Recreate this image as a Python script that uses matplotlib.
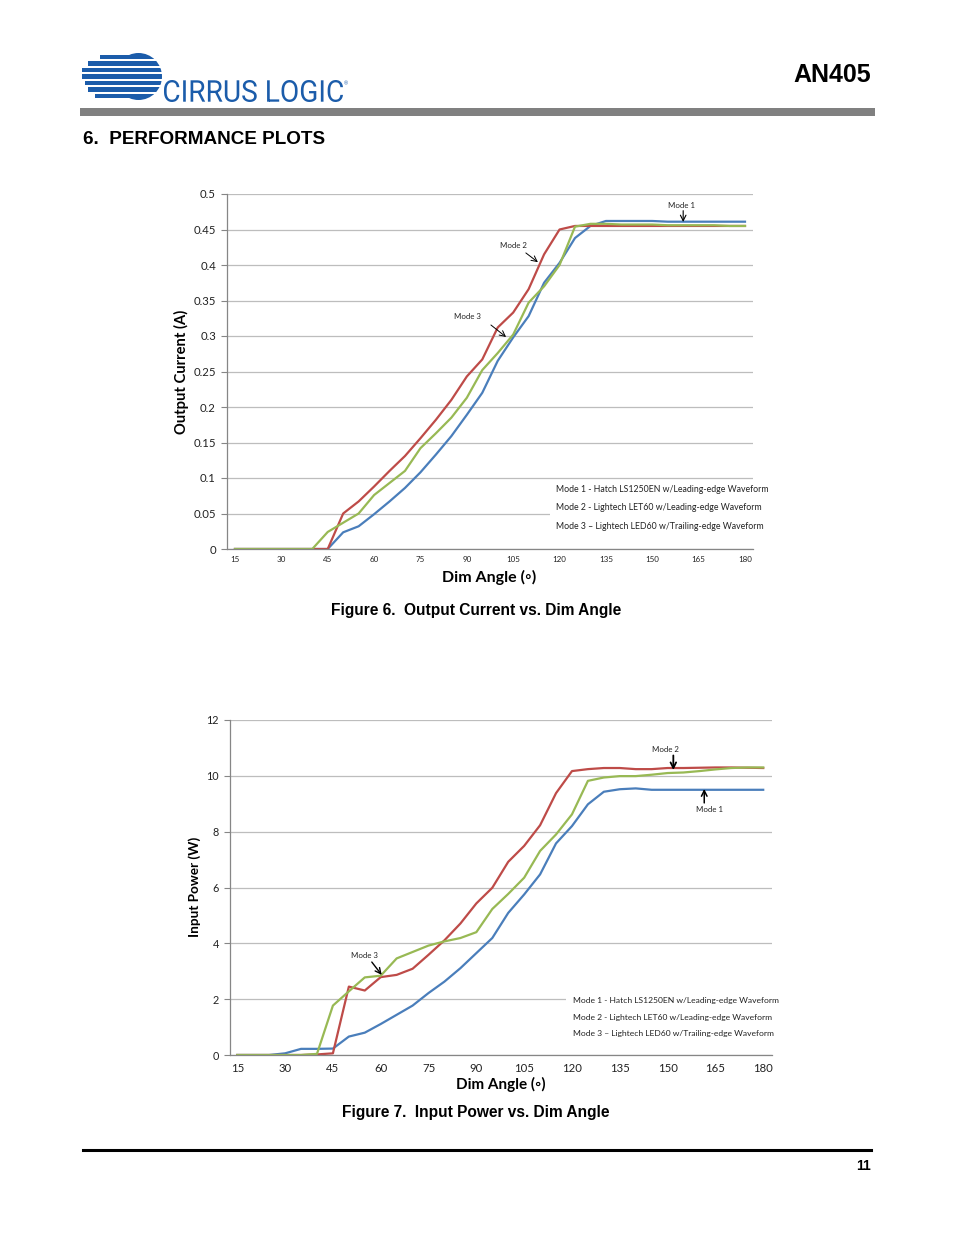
import numpy as np
import matplotlib
matplotlib.use('Agg')
import matplotlib.pyplot as plt
from matplotlib.patches import Rectangle, PathPatch, Ellipse
from matplotlib.textpath import TextPath
from matplotlib.font_manager import FontProperties
from matplotlib.transforms import Affine2D
from matplotlib.lines import Line2D

# ---------------- data ----------------
angles = list(range(15, 181, 5))

current_mode1 = [0, 0, 0, 0, 0, 0, 0,
                 0.0235, 0.032, 0.049, 0.067, 0.086, 0.108, 0.133, 0.159, 0.189, 0.220,
                 0.265, 0.298, 0.328, 0.375, 0.403, 0.438, 0.455, 0.462, 0.462, 0.462,
                 0.462, 0.461, 0.461, 0.461, 0.461, 0.461, 0.461]
current_mode2 = [0, 0, 0, 0, 0, 0, 0,
                 0.050, 0.067, 0.088, 0.110, 0.131, 0.156, 0.182, 0.210, 0.243, 0.267,
                 0.312, 0.333, 0.366, 0.415, 0.450, 0.455, 0.455, 0.455, 0.455, 0.455,
                 0.455, 0.455, 0.455, 0.455, 0.455, 0.455, 0.455]
current_mode3 = [0, 0, 0, 0, 0, 0,
                 0.024, 0.037, 0.050, 0.076, 0.093, 0.110, 0.142, 0.163, 0.185, 0.213,
                 0.252, 0.276, 0.302, 0.347, 0.370, 0.400, 0.454, 0.458, 0.458, 0.457,
                 0.457, 0.457, 0.456, 0.456, 0.456, 0.456, 0.455, 0.455]

power_mode1 = [0, 0, 0, 0.06, 0.22, 0.22, 0.23,
               0.66, 0.80, 1.11, 1.44, 1.77, 2.22, 2.63, 3.11, 3.65, 4.19,
               5.09, 5.75, 6.47, 7.58, 8.20, 8.98, 9.43, 9.52, 9.55, 9.50,
               9.50, 9.50, 9.50, 9.50, 9.50, 9.50, 9.50]
power_mode2 = [0, 0, 0, 0, 0, 0.02, 0.06,
               2.45, 2.31, 2.79, 2.87, 3.09, 3.59, 4.11, 4.71, 5.43, 5.99,
               6.92, 7.49, 8.23, 9.38, 10.17, 10.24, 10.28, 10.28, 10.24, 10.24,
               10.28, 10.28, 10.29, 10.30, 10.30, 10.29, 10.28]
power_mode3 = [0, 0, 0, 0, 0, 0.04, 1.77,
               2.28, 2.78, 2.84, 3.46, 3.69, 3.92, 4.07, 4.19, 4.40, 5.23,
               5.77, 6.35, 7.31, 7.90, 8.62, 9.82, 9.94, 9.99, 9.99, 10.04,
               10.10, 10.12, 10.17, 10.23, 10.28, 10.30, 10.30]

x_ticks = [15, 30, 45, 60, 75, 90, 105, 120, 135, 150, 165, 180]
x_tick_labels = [str(v) for v in x_ticks]
current_yticks = [0, 0.05, 0.1, 0.15, 0.2, 0.25, 0.3, 0.35, 0.4, 0.45, 0.5]
current_ytick_labels = ['0', '0.05', '0.1', '0.15', '0.2', '0.25', '0.3', '0.35', '0.4', '0.45', '0.5']
power_yticks = [0, 2, 4, 6, 8, 10, 12]
power_ytick_labels = ['0', '2', '4', '6', '8', '10', '12']

legend_lines = ['Mode 1 - Hatch LS1250EN w/Leading-edge Waveform',
                'Mode 2 - Lightech LET60 w/Leading-edge Waveform',
                'Mode 3 \u2013 Lightech LED60 w/Trailing-edge Waveform']

# ---------------- layout helpers ----------------
W, H = 954, 1235
fig = plt.figure(figsize=(W / 100, H / 100), dpi=100)
fig.patch.set_facecolor('white')


def fx(px):
    return px / W


def fy(py):
    return 1 - py / H


def axrect(l, t, r, b):
    return [fx(l), fy(b), (r - l) / W, (b - t) / H]


COL1, COL2, COL3 = '#4a7ebb', '#be4b48', '#98b954'
GRID = '#bdbdbd'
SPINE = '#868686'
BODY = ['Lato', 'DejaVu Sans']
HEAD = ['Liberation Sans', 'DejaVu Sans']


def style_axes(ax, xlim, ylim, yticks, ylabels, xfs, yfs, xpad):
    ax.set_xlim(xlim)
    ax.set_ylim(ylim)
    ax.set_xticks(x_ticks)
    ax.set_xticklabels(x_tick_labels, fontsize=xfs, family=BODY, color='#222222')
    ax.set_yticks(yticks)
    ax.set_yticklabels(ylabels, fontsize=yfs, family=BODY, color='#222222')
    ax.tick_params(axis='x', length=0, pad=xpad)
    ax.tick_params(axis='y', length=4, width=0.8, color=SPINE, pad=4)
    ax.grid(axis='y', color=GRID, lw=0.9)
    ax.set_axisbelow(True)
    for s in ['top', 'right']:
        ax.spines[s].set_visible(False)
    for s in ['left', 'bottom']:
        ax.spines[s].set_color(SPINE)
        ax.spines[s].set_linewidth(0.9)


# ---------------- header ----------------
LOGO = '#1b5caa'
cx, cy, r = 138.5, 76.5, 23.5
fig.add_artist(Ellipse((fx(cx), fy(cy)), 2 * r / W, 2 * r / H, transform=fig.transFigure,
                       facecolor=LOGO, edgecolor='none'))
rows_y = [57, 63.5, 70, 76.5, 83, 89.5, 96]
rows_left = [100, 88, 82, 82, 85, 88, 95]
band_h = 4.4
for i in range(len(rows_y) - 1):
    gy = (rows_y[i] + rows_y[i + 1]) / 2
    fig.add_artist(Rectangle((fx(cx - r - 2), fy(gy + 1.05)), (2 * r + 4) / W, 2.1 / H,
                             transform=fig.transFigure, facecolor='white', edgecolor='none'))
for yc, xl in zip(rows_y, rows_left):
    fig.add_artist(Rectangle((fx(xl), fy(yc + band_h / 2)), (cx - xl) / W, band_h / H,
                             transform=fig.transFigure, facecolor=LOGO, edgecolor='none'))

tp = TextPath((0, 0), 'CIRRUS LOGIC', size=20,
              prop=FontProperties(family=['Roboto', 'DejaVu Sans']))
ext = tp.get_extents()
sx = 179 / ext.width
sy = 22 / ext.height
tr = (Affine2D().translate(-ext.x0, -ext.y0).scale(sx, sy).translate(164, H - 102)
      .scale(1 / W, 1 / H) + fig.transFigure)
fig.add_artist(PathPatch(tp, transform=tr, facecolor=LOGO, edgecolor='none'))
fig.text(fx(346), fy(84), '\u00ae', fontsize=4, color=LOGO, ha='center', va='center', family=HEAD)

fig.text(fx(871), fy(75), 'AN405', ha='right', va='center', fontsize=18,
         weight='bold', family=HEAD)
fig.add_artist(Rectangle((fx(80), fy(116)), (875 - 80) / W, 8 / H,
                         transform=fig.transFigure, facecolor='#808080', edgecolor='none'))
fig.text(fx(83), fy(140), '6.  PERFORMANCE PLOTS', ha='left', va='center', fontsize=13.6,
         weight='bold', family=HEAD)

# ---------------- chart 1: output current ----------------
ax1 = fig.add_axes(axrect(227, 194, 753, 549))
style_axes(ax1, (15 - 8 / 3.0909, 180 + 8 / 3.0909), (0, 0.5),
           current_yticks, current_ytick_labels, 5.8, 8.2, 4.8)
ax1.plot(angles, current_mode1, color=COL1, lw=1.6, zorder=2)
ax1.plot(angles, current_mode2, color=COL2, lw=1.6, zorder=2)
ax1.plot(angles, current_mode3, color=COL3, lw=1.6, zorder=2)
ax1.add_patch(Rectangle((0.614, 0.03), 0.45, 0.163, transform=ax1.transAxes,
                        facecolor='white', edgecolor='none', zorder=1, clip_on=False))
for t, yy in zip(legend_lines, [0.169, 0.1155, 0.062]):
    ax1.text(0.6255, yy, t, transform=ax1.transAxes, fontsize=6.35, family=BODY,
             ha='left', va='center', color='#222222', zorder=3)

ann_small = dict(fontsize=5.7, family=BODY, ha='center', va='center', color='#222222')
ax1.annotate('', xy=(160, 0.4606), xytext=(160, 0.4765),
             arrowprops=dict(arrowstyle='->', lw=0.8, color='black', shrinkA=0, shrinkB=0))
ax1.text(159.6, 0.4845, 'Mode 1', **ann_small)
ax1.annotate('', xy=(113, 0.404), xytext=(109.1, 0.417),
             arrowprops=dict(arrowstyle='->', lw=0.7, color='black', shrinkA=0, shrinkB=0))
ax1.text(105, 0.428, 'Mode 2', **ann_small)
ax1.annotate('', xy=(102.7, 0.2986), xytext=(97.8, 0.3155),
             arrowprops=dict(arrowstyle='->', lw=0.7, color='black', shrinkA=0, shrinkB=0))
ax1.text(90.1, 0.3268, 'Mode 3', **ann_small)

fig.text(fx(181), fy(372), 'Output Current (A)', rotation=90, ha='center', va='center',
         fontsize=10.6, weight='bold', family=BODY)
fig.text(fx(489.5), fy(577), 'Dim Angle (\u25e6)', ha='center', va='center',
         fontsize=11.5, weight='bold', family=BODY)
fig.text(fx(476), fy(610), 'Figure 6.  Output Current vs. Dim Angle', ha='center', va='center',
         fontsize=11.2, weight='bold', family=HEAD)

# ---------------- chart 2: input power ----------------
ax2 = fig.add_axes(axrect(230, 720, 772, 1055))
style_axes(ax2, (15 - 7.3 / 3.1915, 180 + 8.8 / 3.1915), (0, 12),
           power_yticks, power_ytick_labels, 8.2, 7.8, 5.5)
ax2.plot(angles, power_mode1, color=COL1, lw=1.6, zorder=2)
ax2.plot(angles, power_mode2, color=COL2, lw=1.6, zorder=2)
ax2.plot(angles, power_mode3, color=COL3, lw=1.6, zorder=2)
ax2.add_patch(Rectangle((0.62, 0.034), 0.43, 0.16, transform=ax2.transAxes,
                        facecolor='white', edgecolor='none', zorder=1, clip_on=False))
for t, yy in zip(legend_lines, [0.164, 0.113, 0.063]):
    ax2.text(0.633, yy, t, transform=ax2.transAxes, fontsize=6.1, family=BODY,
             ha='left', va='center', color='#222222', zorder=3)

ax2.annotate('', xy=(151.8, 10.21), xytext=(151.8, 10.73),
             arrowprops=dict(arrowstyle='->', lw=1.3, color='black', shrinkA=0, shrinkB=0))
ax2.text(149.3, 10.96, 'Mode 2', **ann_small)
ax2.annotate('', xy=(161.5, 9.53), xytext=(161.5, 9.03),
             arrowprops=dict(arrowstyle='->', lw=1.1, color='black', shrinkA=0, shrinkB=0))
ax2.text(163.1, 8.81, 'Mode 1', **ann_small)
ax2.annotate('', xy=(60.3, 2.87), xytext=(57.2, 3.33),
             arrowprops=dict(arrowstyle='->', lw=1.0, color='black', shrinkA=0, shrinkB=0))
ax2.text(55, 3.58, 'Mode 3', **ann_small)

fig.text(fx(195), fy(887), 'Input Power (W)', rotation=90, ha='center', va='center',
         fontsize=9.8, weight='bold', family=BODY)
fig.text(fx(501), fy(1084), 'Dim Angle (\u25e6)', ha='center', va='center',
         fontsize=11, weight='bold', family=BODY)
fig.text(fx(476), fy(1113), 'Figure 7.  Input Power vs. Dim Angle', ha='center', va='center',
         fontsize=11.2, weight='bold', family=HEAD)

# ---------------- footer ----------------
fig.add_artist(Line2D([fx(83), fx(871)], [fy(1150), fy(1150)], lw=2.2, color='black',
                      transform=fig.transFigure))
fig.text(fx(871), fy(1166), '11', ha='right', va='center', fontsize=10, weight='bold', family=HEAD)

fig.savefig('out.png', dpi=100, facecolor='white')
